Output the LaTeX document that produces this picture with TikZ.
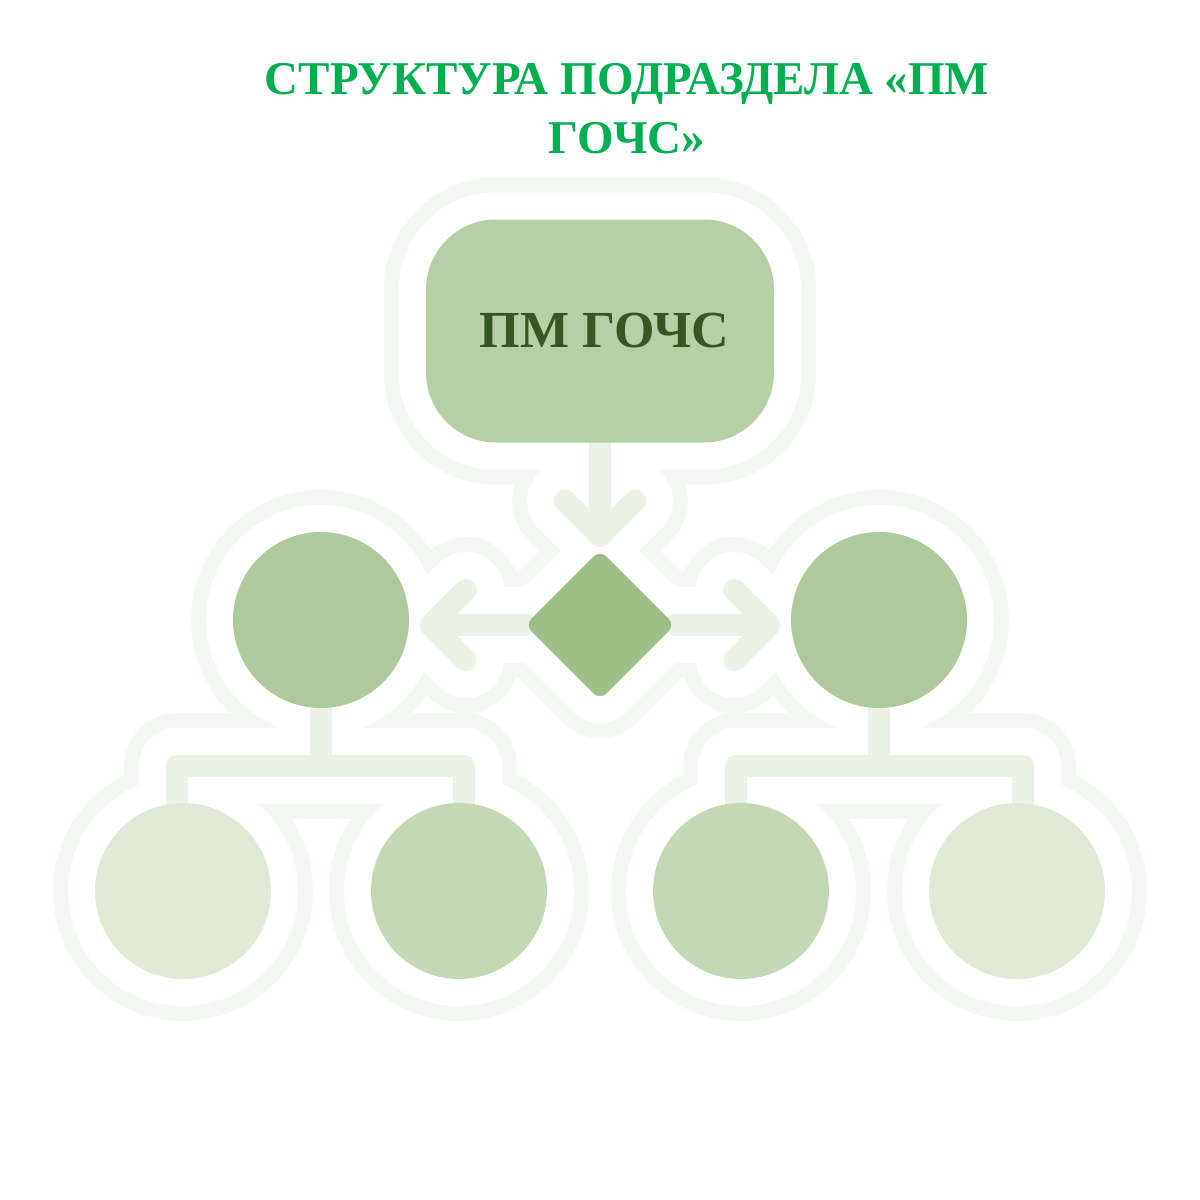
\documentclass[tikz,border=0pt]{standalone}
\usepackage{fontspec}
\setmainfont{Liberation Serif}
\usetikzlibrary{shapes.geometric,backgrounds}

\definecolor{titlegreen}{HTML}{00B050}
\definecolor{textgreen}{HTML}{375623}
\definecolor{boxgreen}{HTML}{B7CFA6}
\definecolor{diamondgreen}{HTML}{9DBE86}
\definecolor{midgreen}{HTML}{AFC99D}
\definecolor{lowgreen}{HTML}{C4D8B6}
\definecolor{palegreen}{HTML}{DFEAD6}
\definecolor{linkgreen}{HTML}{EBF2E6}
\definecolor{halogreen}{HTML}{F4F8F2}

% все соединительные линии (рисуются несколько раз разной толщиной)
\newcommand{\svyazi}{%
  \draw (pm.south) -- ([yshift=14pt]rb.north);
  \draw ([yshift=14pt]rb.north) ++(-35,-35) -- ++(35,35) -- ++(35,-35);
  \draw (rb.west) -- ([xshift=-94pt]rb.west);
  \draw ([xshift=-94pt]rb.west) ++(35,-35) -- ++(-35,35) -- ++(35,35);
  \draw (rb.east) -- ([xshift=94pt]rb.east);
  \draw ([xshift=94pt]rb.east) ++(-35,-35) -- ++(35,35) -- ++(-35,35);
  \draw (l.south) -- ++(0,58);
  \draw ([xshift=-6pt]ll.north) -- ++(0,-37) -| ([xshift=5pt]lr.north);
  \draw (r.south) -- ++(0,58);
  \draw ([xshift=-5pt]rl.north) -- ++(0,-37) -| ([xshift=6pt]rr.north);
}

\begin{document}
\begin{tikzpicture}[x=1pt,y=-1pt] % схема подраздела
\tikzstyle{zagolovok} = [align=center, inner sep=0pt, anchor=north, text=titlegreen, font=\bfseries\fontsize{47}{59}\selectfont] % заголовок
\tikzstyle{glav} = [rectangle, rounded corners=70pt, minimum width=348pt, minimum height=223pt, inner sep=0pt, fill=boxgreen, text=textgreen, font=\bfseries\fontsize{52}{60}\selectfont] % верхний блок
\tikzstyle{romb} = [diamond, minimum width=150pt, minimum height=150pt, inner sep=0pt, rounded corners=9pt, fill=diamondgreen] % ромб в центре
\tikzstyle{krug} = [circle, minimum size=176pt, inner sep=0pt] % кружки
\tikzstyle{svyaz} = [line width=22pt, color=linkgreen, line cap=round, line join=round] % линии
\useasboundingbox (0,0) rectangle (1200,1200);
\node[zagolovok] (zag) at (627,63) {СТРУКТУРА ПОДРАЗДЕЛА «ПМ\\ГОЧС»};
\node[glav] (pm) at (600,331) {\hspace*{9pt}ПМ ГОЧС};
\node[romb] (rb) at (600,625) {};
\node[krug, fill=midgreen] (l) at (321,620) {};
\node[krug, fill=midgreen] (r) at (879,620) {};
\node[krug, fill=palegreen] (ll) at (183,891) {};
\node[krug, fill=lowgreen] (lr) at (459,891) {};
\node[krug, fill=lowgreen] (rl) at (741,891) {};
\node[krug, fill=palegreen] (rr) at (1017,891) {};
\begin{scope}[on background layer]
% светлый контур вокруг всей схемы: сначала заливка с отступом 42, потом белым с отступом 27
\foreach \cvet/\pad in {halogreen/42, white/27} {
  \begin{scope}[color=\cvet, line cap=round, line join=round]
    \filldraw[line width=2*\pad, rounded corners=70pt] (pm.north west) rectangle (pm.south east);
    \filldraw[line width=2*\pad, rounded corners=9pt] (rb.north) -- (rb.east) -- (rb.south) -- (rb.west) -- cycle;
    \foreach \k in {l,r,ll,lr,rl,rr} \fill (\k) circle[radius=88+\pad];
    \begin{scope}[line width=22+2*\pad] \svyazi \end{scope}
  \end{scope}
}
\begin{scope}[svyaz] \svyazi \end{scope}
\end{scope}
\end{tikzpicture}
\end{document}
